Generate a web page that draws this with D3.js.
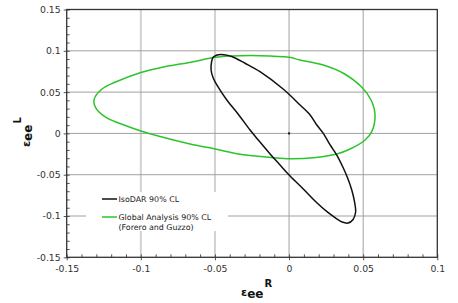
<!DOCTYPE html>
<html><head><meta charset="utf-8">
<script src="https://cdn.jsdelivr.net/npm/d3@7"></script>
<style>body{margin:0;background:#fff}svg{display:block}</style>
</head><body>
<svg id="c" width="458" height="303"></svg>
<script>
// ---- data ----
const xTicks = [-0.15, -0.1, -0.05, 0, 0.05, 0.1];
const yTicks = [-0.15, -0.1, -0.05, 0, 0.05, 0.1, 0.15];
const legendLabels = ["IsoDAR 90% CL", "Global Analysis 90% CL", "(Forero and Guzzo)"];
const centerPoint = [0, 0];

const isodarX = [-0.0523,-0.0513,-0.0486,-0.0439,-0.0387,-0.0297,-0.0196,-0.0038,0.0074,0.0142,0.0187,0.0231,0.0277,0.0322,0.0366,0.0395,0.0423,0.0442,0.0449,0.0432,0.0398,0.0358,0.0317,0.0260,0.0175,0.0096,0.0007,-0.0067,-0.0128,-0.0202,-0.0263,-0.0344,-0.0420,-0.0479,-0.0511,-0.0526];
const isodarY = [0.0864,0.0919,0.0949,0.0952,0.0931,0.0849,0.0747,0.0534,0.0344,0.0223,0.0102,0.0001,-0.0140,-0.0262,-0.0419,-0.0540,-0.0685,-0.0831,-0.0952,-0.1042,-0.1085,-0.1073,-0.1028,-0.0954,-0.0818,-0.0673,-0.0516,-0.0370,-0.0249,-0.0092,0.0041,0.0235,0.0404,0.0562,0.0667,0.0768];

const globalX = [-0.1316,-0.1302,-0.1235,-0.1095,-0.1005,-0.0870,-0.0668,-0.0499,-0.0331,-0.0106,0.0007,0.0164,0.0322,0.0412,0.0513,0.0558,0.0580,0.0553,0.0491,0.0366,0.0231,0.0074,0.0000,-0.0196,-0.0387,-0.0499,-0.0646,-0.0870,-0.1005,-0.1174,-0.1264];
const globalY = [0.0404,0.0304,0.0195,0.0090,0.0033,-0.0038,-0.0128,-0.0189,-0.0253,-0.0294,-0.0306,-0.0294,-0.0249,-0.0189,-0.0080,0.0021,0.0223,0.0404,0.0558,0.0728,0.0828,0.0889,0.0921,0.0941,0.0937,0.0921,0.0868,0.0795,0.0735,0.0619,0.0534];

// ---- layout ----
const svg = d3.select("#c");
const L = 66.7, R = 437.3, T = 9.5, B = 257.3;
const x = d3.scaleLinear().domain([-0.15, 0.1]).range([L, R]);
const y = d3.scaleLinear().domain([-0.15, 0.15]).range([B, T]);
const font = "DejaVu Sans, Verdana, sans-serif";
const green = "#2cc42c";

// gridlines
const g = svg.append("g");
xTicks.slice(1, -1).forEach(v => {
  const light = v < -0.01;
  g.append("line").attr("x1", x(v)).attr("x2", x(v)).attr("y1", T).attr("y2", B)
    .attr("stroke", light ? "#d2d2d2" : "#a0a0a0").attr("stroke-width", light ? 2 : 1);
});
yTicks.slice(1, -1).forEach(v => {
  g.append("line").attr("x1", L).attr("x2", R).attr("y1", y(v)).attr("y2", y(v))
    .attr("stroke", "#a0a0a0").attr("stroke-width", 1);
});

// legend background
svg.append("rect").attr("x", 86).attr("y", 192).attr("width", 142).attr("height", 39).attr("fill", "#fff");

// curves
const line = d3.line().x(d => x(d[0])).y(d => y(d[1])).curve(d3.curveCatmullRomClosed.alpha(0.5));
const gPts = globalX.map((v, i) => [v, globalY[i]]);
const iPts = isodarX.map((v, i) => [v, isodarY[i]]);
svg.append("path").attr("d", line(gPts)).attr("fill", "none").attr("stroke", green).attr("stroke-width", 1.5);
svg.append("path").attr("d", line(iPts)).attr("fill", "none").attr("stroke", "#111").attr("stroke-width", 1.5);

// center point
svg.append("rect").attr("x", x(centerPoint[0]) - 1).attr("y", y(centerPoint[1]) - 1).attr("width", 2).attr("height", 2).attr("fill", "#111");

// axes
const minorX = d3.range(-150, 101, 10).map(v => v / 1000);
const minorY = d3.range(-150, 151, 10).map(v => v / 1000);
const ax = svg.append("g").attr("transform", `translate(0,${B})`)
  .call(d3.axisBottom(x).tickValues(xTicks).tickFormat(d => String(d)).tickSize(3).tickPadding(5));
const axm = svg.append("g").attr("transform", `translate(0,${B})`)
  .call(d3.axisBottom(x).tickValues(minorX).tickFormat("").tickSize(-3));
const ay = svg.append("g").attr("transform", `translate(${L},0)`)
  .call(d3.axisLeft(y).tickValues(yTicks).tickFormat(d => String(d)).tickSize(3).tickPadding(3));
const aym = svg.append("g").attr("transform", `translate(${L},0)`)
  .call(d3.axisLeft(y).tickValues(minorY).tickFormat("").tickSize(-3));
[ax, axm, ay, aym].forEach(a => {
  a.select(".domain").remove();
  a.selectAll("line").attr("stroke", "#555");
  a.selectAll("text").attr("font-family", font).attr("font-size", 9.3).attr("fill", "#333");
});
// frame
svg.append("rect").attr("x", L).attr("y", T).attr("width", R - L).attr("height", B - T)
  .attr("fill", "none").attr("stroke", "#333").attr("stroke-width", 1.3);

// axis titles
function title(tx, ty, rot, sup) {
  const t = svg.append("text").attr("transform", `translate(${tx},${ty}) rotate(${rot})`)
    .attr("font-family", font).attr("font-weight", "bold").attr("fill", "#111");
  t.append("tspan").attr("font-size", 11).text("ε");
  t.append("tspan").attr("font-size", 12).attr("dy", 2).text("ee");
  t.append("tspan").attr("font-size", 10).attr("dy", -11).attr("dx", 1).text(sup);
}
title(241, 296, 0, "R");
title(30, 147, -90, "L");

// legend
const lg = svg.append("g").attr("font-family", font).attr("font-size", 7.9).attr("fill", "#222");
lg.append("line").attr("x1", 102).attr("x2", 117).attr("y1", 199).attr("y2", 199).attr("stroke", "#111").attr("stroke-width", 1.5);
lg.append("line").attr("x1", 102).attr("x2", 117).attr("y1", 217).attr("y2", 217).attr("stroke", green).attr("stroke-width", 1.5);
lg.append("text").attr("x", 118.5).attr("y", 202).text(legendLabels[0]);
lg.append("text").attr("x", 118.5).attr("y", 220).text(legendLabels[1]);
lg.append("text").attr("x", 118.5).attr("y", 230).text(legendLabels[2]);
</script>
</body></html>
